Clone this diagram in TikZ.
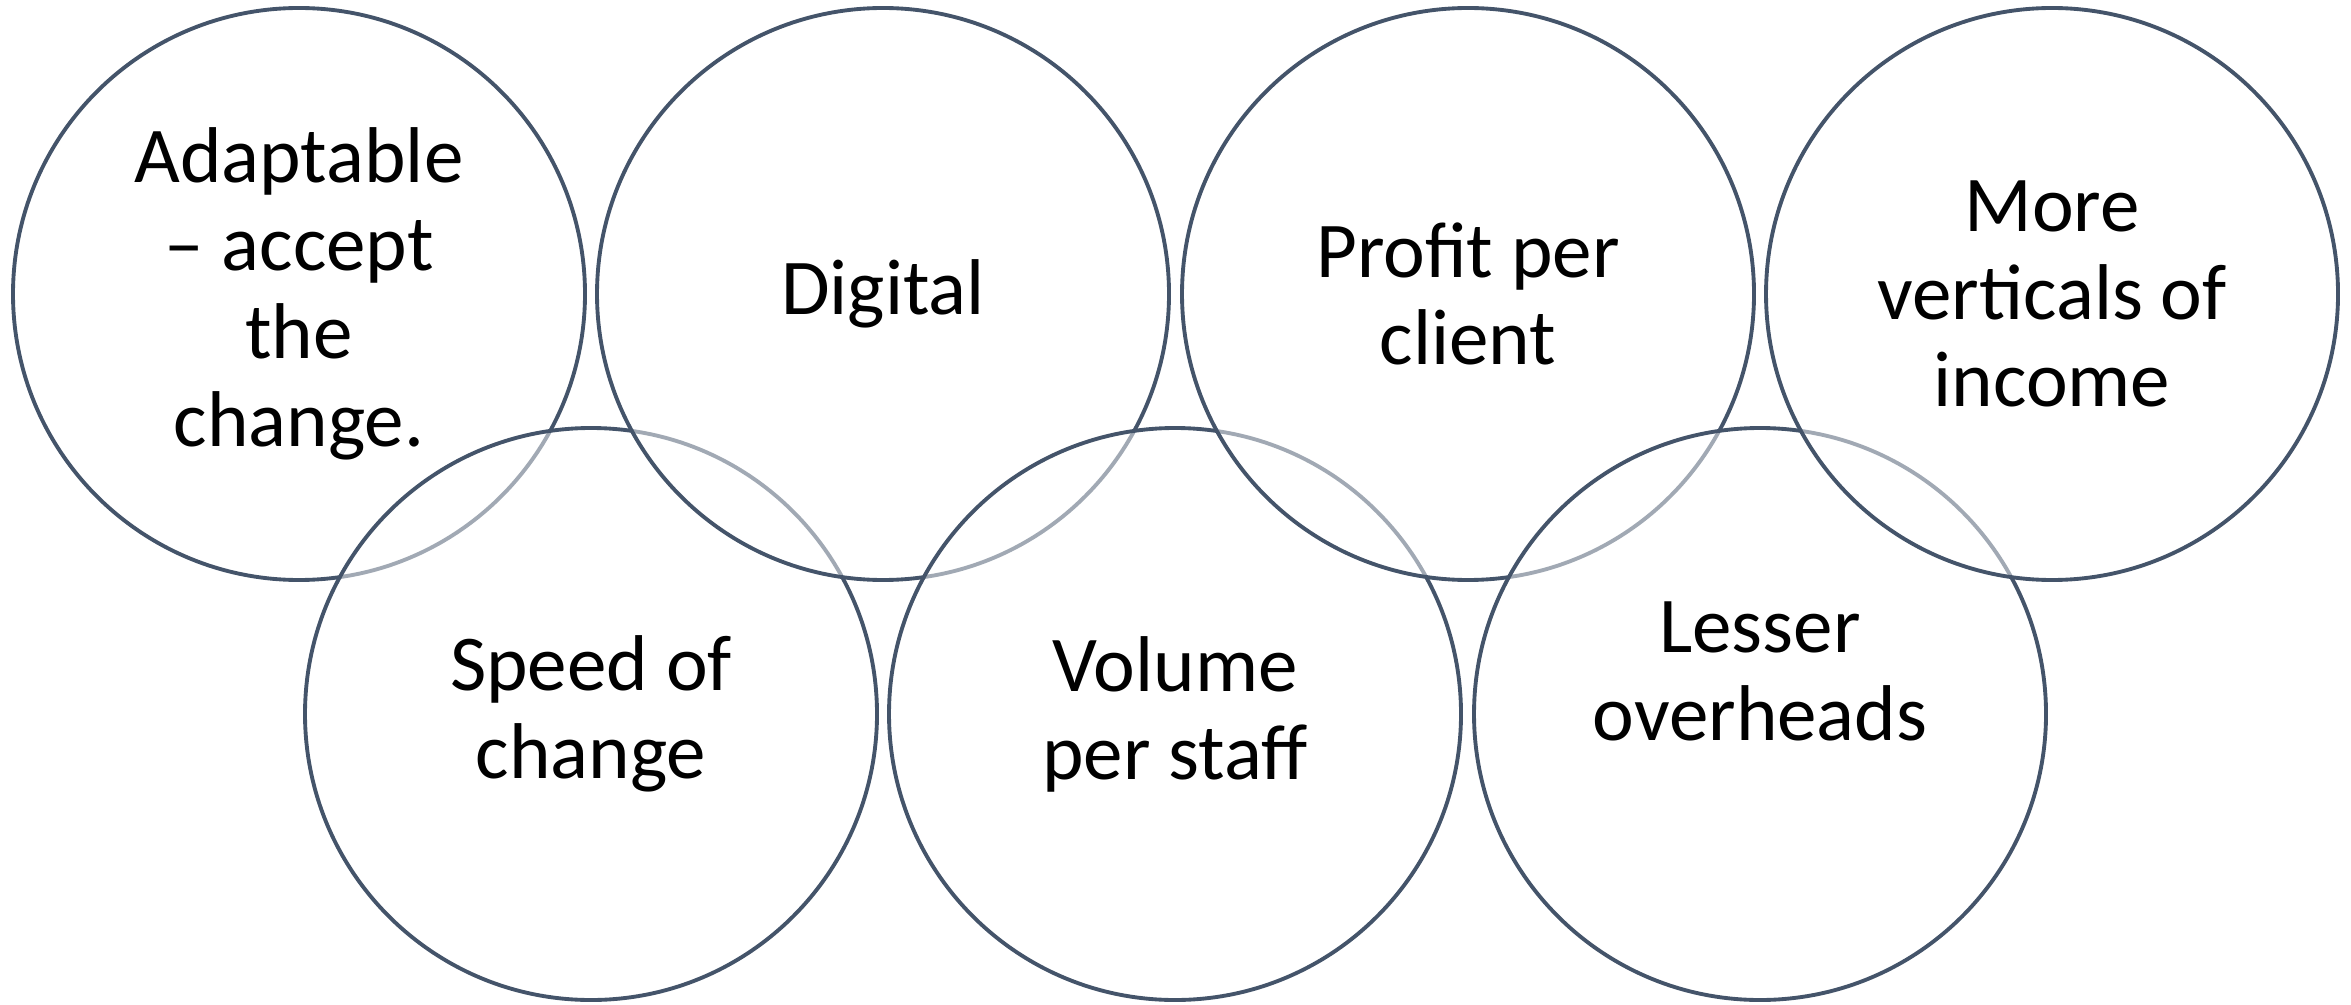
\documentclass[tikz,border=0pt]{standalone}
\usepackage{fontspec}
\setmainfont{Carlito}
\usetikzlibrary{positioning}
\definecolor{ringline}{HTML}{44546A}

\begin{document}
\begin{tikzpicture}[
  every ring/.style={circle, draw=ringline, line width=1.1pt, fill=white,
    fill opacity=0.5, minimum size=5.72cm, inner sep=0pt},
  every label/.style={align=center, font=\fontsize{22.5}{25}\selectfont, text=black}
]
\useasboundingbox (0,0) rectangle (23.51,10.04);

% rings, drawn top and bottom in turn
\foreach \m/\x/\y in {adapt/2.99/7.10, speed/5.91/2.90, digital/8.83/7.10,
    volume/11.75/2.90, profit/14.68/7.10, lesser/17.60/2.90, more/20.52/7.10}
  \node [every ring/.try] (ring-\m) at (\x, \y) {};

% texts of the rings
\node [every label/.try] (text-adapt) at (ring-adapt) {Adaptable\\– accept\\the\\change.};
\node [every label/.try] (text-digital) at (ring-digital) {Digital};
\node [every label/.try] (text-profit) at (ring-profit) {Profit per\\client};
\node [every label/.try] (text-more) at (ring-more) {More\\verticals of\\income};
\node [every label/.try] (text-speed) at (ring-speed) {Speed of\\change};
\node [every label/.try] (text-volume) at (ring-volume) {Volume\\per staff};
\node [every label/.try] (text-lesser) at ([yshift=0.43cm]ring-lesser) {Lesser\\overheads};
\end{tikzpicture}
\end{document}
